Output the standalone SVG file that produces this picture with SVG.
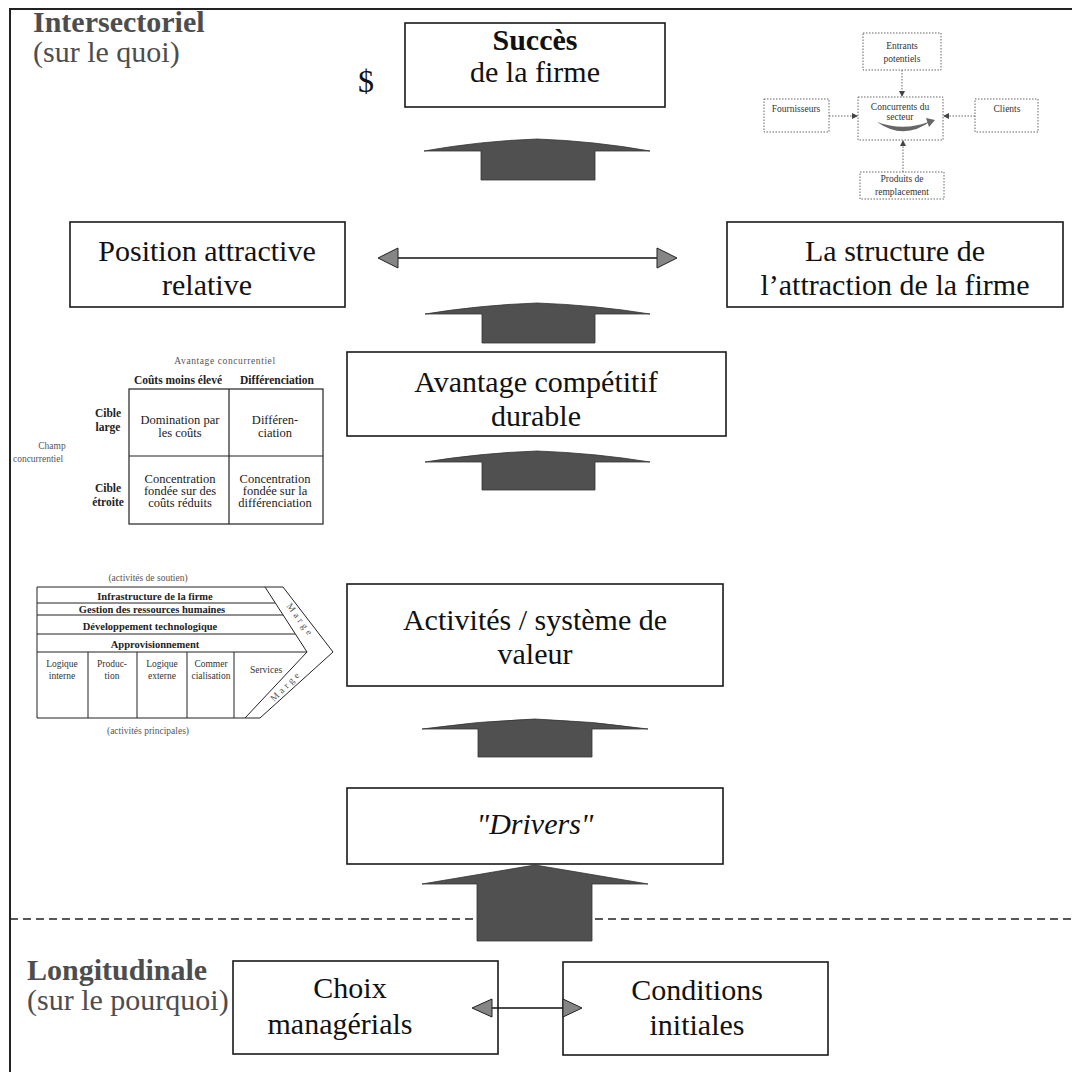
<svg xmlns="http://www.w3.org/2000/svg" width="1072" height="1072" viewBox="0 0 1072 1072">
<style>
  text { font-family: "Liberation Serif", "Times New Roman", serif; fill: #111; }
  .box { fill: #fff; stroke: #1a1a1a; stroke-width: 1.6; }
  .big { font-size: 30px; text-anchor: middle; }
  .lane { font-size: 30px; fill: #4d4d4d; }
  .blk { fill: #505050; stroke: #333; stroke-width: 0.8; }
  .head { fill: #858585; stroke: #222; stroke-width: 1; }
  .link { stroke: #111; stroke-width: 1.6; fill: none; }
  .thin { fill: none; stroke: #222; stroke-width: 1; }
  .dot { fill: #fff; stroke: #555; stroke-width: 0.9; stroke-dasharray: 1.5 1.5; }
  .dotl { fill: none; stroke: #555; stroke-width: 0.9; stroke-dasharray: 1.5 1.5; }
  .ff { font-size: 9.5px; text-anchor: middle; fill: #333; }
  .mx { font-size: 11.5px; text-anchor: middle; font-weight: bold; fill: #222; }
  .mc { font-size: 12.5px; text-anchor: middle; fill: #1a1a1a; }
  .vc { font-size: 10.5px; text-anchor: middle; font-weight: bold; fill: #222; }
  .vs { font-size: 9.5px; text-anchor: middle; fill: #333; }
  .note { font-size: 9.5px; text-anchor: middle; fill: #555; }
</style>
<defs>
  <marker id="ah" markerWidth="6" markerHeight="6" refX="5" refY="3" orient="auto" markerUnits="userSpaceOnUse">
    <path d="M0,0 L6,3 L0,6 Z" fill="#444"/>
  </marker>
</defs>

<!-- frame and lane separator -->
<path d="M10,1072 V9 H1072" fill="none" stroke="#222" stroke-width="2"/>
<line x1="10" y1="919" x2="1072" y2="919" stroke="#222" stroke-width="1.6" stroke-dasharray="8 5"/>

<!-- lane labels -->
<g id="lane-top">
  <text class="lane" x="33" y="32" font-weight="bold">Intersectoriel</text>
  <text class="lane" x="33" y="62">(sur le quoi)</text>
  <text x="366" y="92" font-size="32" text-anchor="middle">$</text>
</g>
<g id="lane-bottom">
  <text class="lane" x="27" y="980" font-weight="bold">Longitudinale</text>
  <text class="lane" x="27" y="1010">(sur le pourquoi)</text>
</g>

<!-- main boxes -->
<g id="succes">
  <rect class="box" x="405" y="23" width="260" height="84"/>
  <text class="big" x="535" y="50" font-weight="bold">Succès</text>
  <text class="big" x="535" y="82">de la firme</text>
</g>
<g id="position">
  <rect class="box" x="70" y="222" width="275" height="85"/>
  <text class="big" x="207" y="261">Position attractive</text>
  <text class="big" x="207" y="295">relative</text>
</g>
<g id="structure">
  <rect class="box" x="727" y="222" width="336" height="85"/>
  <text class="big" x="895" y="261">La structure de</text>
  <text class="big" x="895" y="295">l’attraction de la firme</text>
</g>
<g id="avantage">
  <rect class="box" x="347" y="352" width="379" height="84"/>
  <text class="big" x="536" y="392">Avantage compétitif</text>
  <text class="big" x="536" y="426">durable</text>
</g>
<g id="activites">
  <rect class="box" x="347" y="584" width="376" height="102"/>
  <text class="big" x="535" y="630">Activités / système de</text>
  <text class="big" x="535" y="664">valeur</text>
</g>
<g id="drivers">
  <rect class="box" x="347" y="788" width="376" height="76"/>
  <text class="big" x="535" y="834" font-style="italic">"Drivers"</text>
</g>
<g id="choix">
  <rect class="box" x="233" y="961" width="265" height="93"/>
  <text class="big" x="350" y="998">Choix</text>
  <text class="big" x="340" y="1034">managérials</text>
</g>
<g id="conditions">
  <rect class="box" x="563" y="962" width="265" height="93"/>
  <text class="big" x="697" y="1000">Conditions</text>
  <text class="big" x="697" y="1035">initiales</text>
</g>

<!-- connectors -->
<g id="connectors">
  <path class="blk" d="M424,151 Q480,141 537,139 Q594,141 650,151 L595,151 V180 H481 V151 Z"/>
  <path class="blk" d="M425,314 Q481,305 537,303 Q594,305 650,314 L595,314 V343 H482 V314 Z"/>
  <path class="blk" d="M425,462 Q481,453 537,451 Q594,453 650,462 L595,462 V490 H482 V462 Z"/>
  <path class="blk" d="M422,729 Q478,721 535,719 Q592,721 648,729 L592,729 V757 H478 V729 Z"/>
  <path class="blk" d="M422,884 L535,865 L648,884 L592,884 V941 H477 V884 Z"/>

  <line class="link" x1="396" y1="258" x2="659" y2="258"/>
  <path class="head" d="M378,258 L398,248 L398,268 Z"/>
  <path class="head" d="M677,258 L657,248 L657,268 Z"/>

  <line class="link" x1="490" y1="1008" x2="565" y2="1008"/>
  <path class="head" d="M472,1008 L492,999 L492,1017 Z"/>
  <path class="head" d="M582,1008 L563,999 L563,1017 Z"/>
</g>

<!-- five forces sketch -->
<g id="cinq-forces">
  <rect class="dot" x="863" y="33" width="78" height="37"/>
  <text class="ff" x="902" y="49">Entrants</text>
  <text class="ff" x="902" y="62">potentiels</text>
  <rect class="dot" x="858" y="97" width="85" height="43"/>
  <text class="ff" x="900" y="110">Concurrents du</text>
  <text class="ff" x="900" y="120">secteur</text>
  <path d="M877,122 Q904,141 931,121 Q904,132 877,122 Z" fill="#666"/>
  <path d="M926,118 L935,120 L929,127 Z" fill="#666"/>
  <rect class="dot" x="764" y="99" width="65" height="33"/>
  <text class="ff" x="796" y="112">Fournisseurs</text>
  <rect class="dot" x="975" y="99" width="63" height="33"/>
  <text class="ff" x="1007" y="112">Clients</text>
  <rect class="dot" x="860" y="172" width="84" height="27"/>
  <text class="ff" x="902" y="182">Produits de</text>
  <text class="ff" x="902" y="195">remplacement</text>
  <line class="dotl" x1="829" y1="116" x2="857" y2="116" marker-end="url(#ah)"/>
  <line class="dotl" x1="975" y1="116" x2="944" y2="116" marker-end="url(#ah)"/>
  <line class="dotl" x1="902" y1="70" x2="902" y2="96" marker-end="url(#ah)"/>
  <line class="dotl" x1="903" y1="172" x2="903" y2="141" marker-end="url(#ah)"/>
</g>

<!-- generic strategies matrix -->
<g id="strategies">
  <text class="note" x="225" y="364" font-size="10.5" letter-spacing="0.6">Avantage concurrentiel</text>
  <text class="mx" x="178" y="384">Coûts moins élevé</text>
  <text class="mx" x="277" y="384">Différenciation</text>
  <rect x="129" y="389" width="194" height="135" fill="none" stroke="#222" stroke-width="1.2"/>
  <line x1="229" y1="389" x2="229" y2="524" stroke="#222" stroke-width="1.2"/>
  <line x1="129" y1="456" x2="323" y2="456" stroke="#222" stroke-width="1.2"/>
  <text class="mx" x="108" y="417">Cible</text>
  <text class="mx" x="108" y="431">large</text>
  <text class="mx" x="108" y="492">Cible</text>
  <text class="mx" x="108" y="506">étroite</text>
  <text class="note" x="52" y="449" font-size="11.5">Champ</text>
  <text class="note" x="38" y="462" font-size="11.5">concurrentiel</text>
  <text class="mc" x="180" y="424">Domination par</text>
  <text class="mc" x="180" y="437">les coûts</text>
  <text class="mc" x="275" y="424">Différen-</text>
  <text class="mc" x="275" y="437">ciation</text>
  <text class="mc" x="180" y="483">Concentration</text>
  <text class="mc" x="180" y="495">fondée sur des</text>
  <text class="mc" x="180" y="507">coûts réduits</text>
  <text class="mc" x="275" y="483">Concentration</text>
  <text class="mc" x="275" y="495">fondée sur la</text>
  <text class="mc" x="275" y="507">différenciation</text>
</g>

<!-- value chain -->
<g id="chaine-valeur">
  <text class="note" x="148" y="581">(activités de soutien)</text>
  <path class="thin" d="M37,587 H283 L333,652 L260,718 H37 Z"/>
  <path class="thin" d="M265,587 L307,652 L245,718"/>
  <path class="thin" d="M37,603 H275 M37,615 H283 M37,634 H295 M37,652 H307"/>
  <path class="thin" d="M88,652 V718 M137,652 V718 M187,652 V718 M234,652 V718"/>
  <text class="vc" x="155" y="600">Infrastructure de la firme</text>
  <text class="vc" x="152" y="613">Gestion des ressources humaines</text>
  <text class="vc" x="150" y="630">Développement technologique</text>
  <text class="vc" x="155" y="648">Approvisionnement</text>
  <text class="vs" x="62" y="667">Logique</text>
  <text class="vs" x="62" y="679">interne</text>
  <text class="vs" x="112" y="667">Produc-</text>
  <text class="vs" x="112" y="679">tion</text>
  <text class="vs" x="162" y="667">Logique</text>
  <text class="vs" x="162" y="679">externe</text>
  <text class="vs" x="211" y="667">Commer</text>
  <text class="vs" x="211" y="679">cialisation</text>
  <text class="vs" x="266" y="673">Services</text>
  <text class="note" x="298" y="622" font-size="8" letter-spacing="3" transform="rotate(54 298 622)">Marge</text>
  <text class="note" x="288" y="688" font-size="8" letter-spacing="3" transform="rotate(-45 288 688)">Marge</text>
  <text class="note" x="148" y="734">(activités principales)</text>
</g>
</svg>
